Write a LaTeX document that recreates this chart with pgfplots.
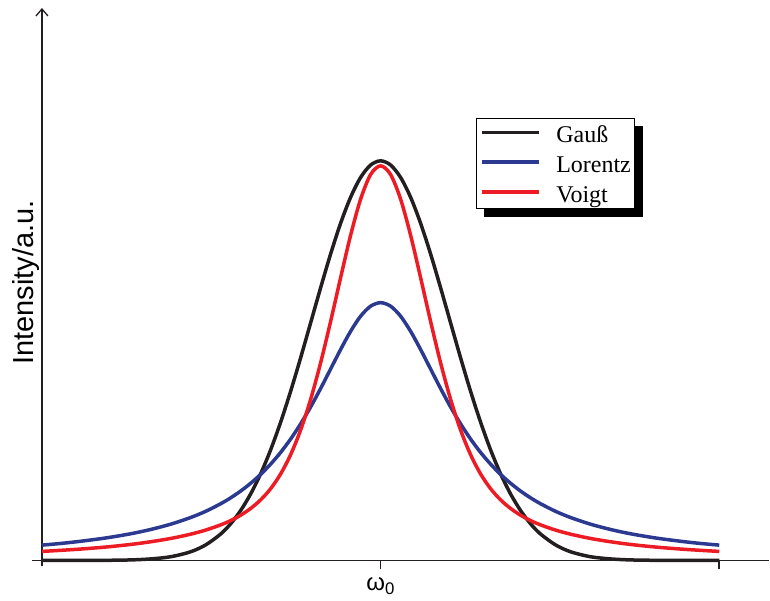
\documentclass[border=0pt]{standalone}
\usepackage{fontspec}
\setmainfont{Liberation Serif}
\newfontfamily\arial{Liberation Sans}
\usepackage{pgfplots}
\pgfplotsset{compat=1.18}
\usepackage{pgfplotstable}
\usetikzlibrary{arrows.meta,backgrounds}

\definecolor{gaussblack}{RGB}{35,31,32}
\definecolor{lorentzblue}{RGB}{43,57,144}
\definecolor{voigtred}{RGB}{237,28,36}
\definecolor{axisgray}{RGB}{35,31,32}

% line profiles, centre at x = 339 (omega_0)
\pgfplotstableread{
x    g      l      v
0    0.0    15.3   9.0
19   0.0    17.0   10.1
39   0.0    19.2   11.4
64   0.1    22.5   13.4
89   0.5    26.7   16.0
109  1.5    31.0   18.7
129  3.7    36.3   22.0
149  8.7    43.0   26.3
164  15.6   49.2   30.4
179  26.5   56.8   35.6
189  36.8   62.7   39.9
199  50.1   69.5   45.3
209  66.7   77.3   52.1
219  86.9   86.2   60.7
229  110.9  96.5   71.9
239  138.6  108.2  86.7
249  169.5  121.6  106.0
259  203.0  136.8  130.7
269  238.0  153.7  161.4
279  273.1  172.2  198.0
289  306.9  191.7  239.4
299  337.6  211.2  283.2
309  363.6  229.4  325.6
319  383.4  244.5  361.7
329  395.8  254.5  386.3
339  400.0  258.0  395.0
349  395.8  254.5  386.3
359  383.4  244.5  361.7
369  363.6  229.4  325.6
379  337.6  211.2  283.2
389  306.9  191.7  239.4
399  273.1  172.2  198.0
409  238.0  153.7  161.4
419  203.0  136.8  130.7
429  169.5  121.6  106.0
439  138.6  108.2  86.7
449  110.9  96.5   71.9
459  86.9   86.2   60.7
469  66.7   77.3   52.1
479  50.1   69.5   45.3
489  36.8   62.7   39.9
499  26.5   56.8   35.6
514  15.6   49.2   30.4
529  8.7    43.0   26.3
549  3.7    36.3   22.0
569  1.5    31.0   18.7
589  0.5    26.7   16.0
614  0.1    22.5   13.4
639  0.0    19.2   11.4
659  0.0    17.0   10.1
678  0.0    15.3   9.0
}\profiles

\begin{document}
\begin{tikzpicture}
\begin{axis}[
  x=1pt, y=1pt,
  xmin=-10, xmax=728, ymin=-6, ymax=553,
  axis lines=middle,
  axis line style={line width=1.6pt, color=axisgray},
  x axis line style={-},
  y axis line style={-{Straight Barb[length=7pt,width=12pt,line width=1.3pt]}},
  xtick={0,339,678},
  xticklabels={,{\arial ω\textsubscript{0}},},
  ytick=\empty,
  tick align=outside,
  major tick length=9pt,
  tick style={line width=1.6pt, color=axisgray},
  xticklabel style={font=\fontsize{24}{26}\selectfont, anchor=north, yshift=-5pt},
  ylabel={Intensity/a.u.},
  every axis y label/.style={at={(axis cs:-16,278)}, anchor=center, rotate=90,
    font=\arial\fontsize{29}{31}\selectfont},
  clip=false,
  legend style={at={(axis cs:434,443)}, anchor=north west, name=profilelegend,
    draw=black, line width=0.8pt, fill=white,
    font=\fontsize{24}{26}\selectfont,
    inner xsep=4pt, inner ysep=6pt, row sep=12pt,
    nodes={inner sep=0pt, text height=18pt, text depth=0pt},
    /tikz/every odd column/.append style={column sep=16pt}},
  legend cell align=left,
  legend image code/.code={\draw[#1] (0pt,1pt) -- (57pt,1pt);},
]
\path (axis cs:-42,-40) rectangle (axis cs:728,561);
\addplot[smooth, gaussblack, line width=3.5pt] table[x=x, y=g] {\profiles};
\addplot[smooth, lorentzblue, line width=3.5pt] table[x=x, y=l] {\profiles};
\addplot[smooth, voigtred, line width=3.5pt] table[x=x, y=v] {\profiles};
\legend{Gauß, Lorentz, Voigt}
\end{axis}
% solid drop shadow behind the legend box
\begin{scope}[on background layer]
  \fill[black] ([shift={(8pt,-8pt)}]profilelegend.south west)
    rectangle ([shift={(8pt,-8pt)}]profilelegend.north east);
\end{scope}
\end{tikzpicture}
\end{document}
